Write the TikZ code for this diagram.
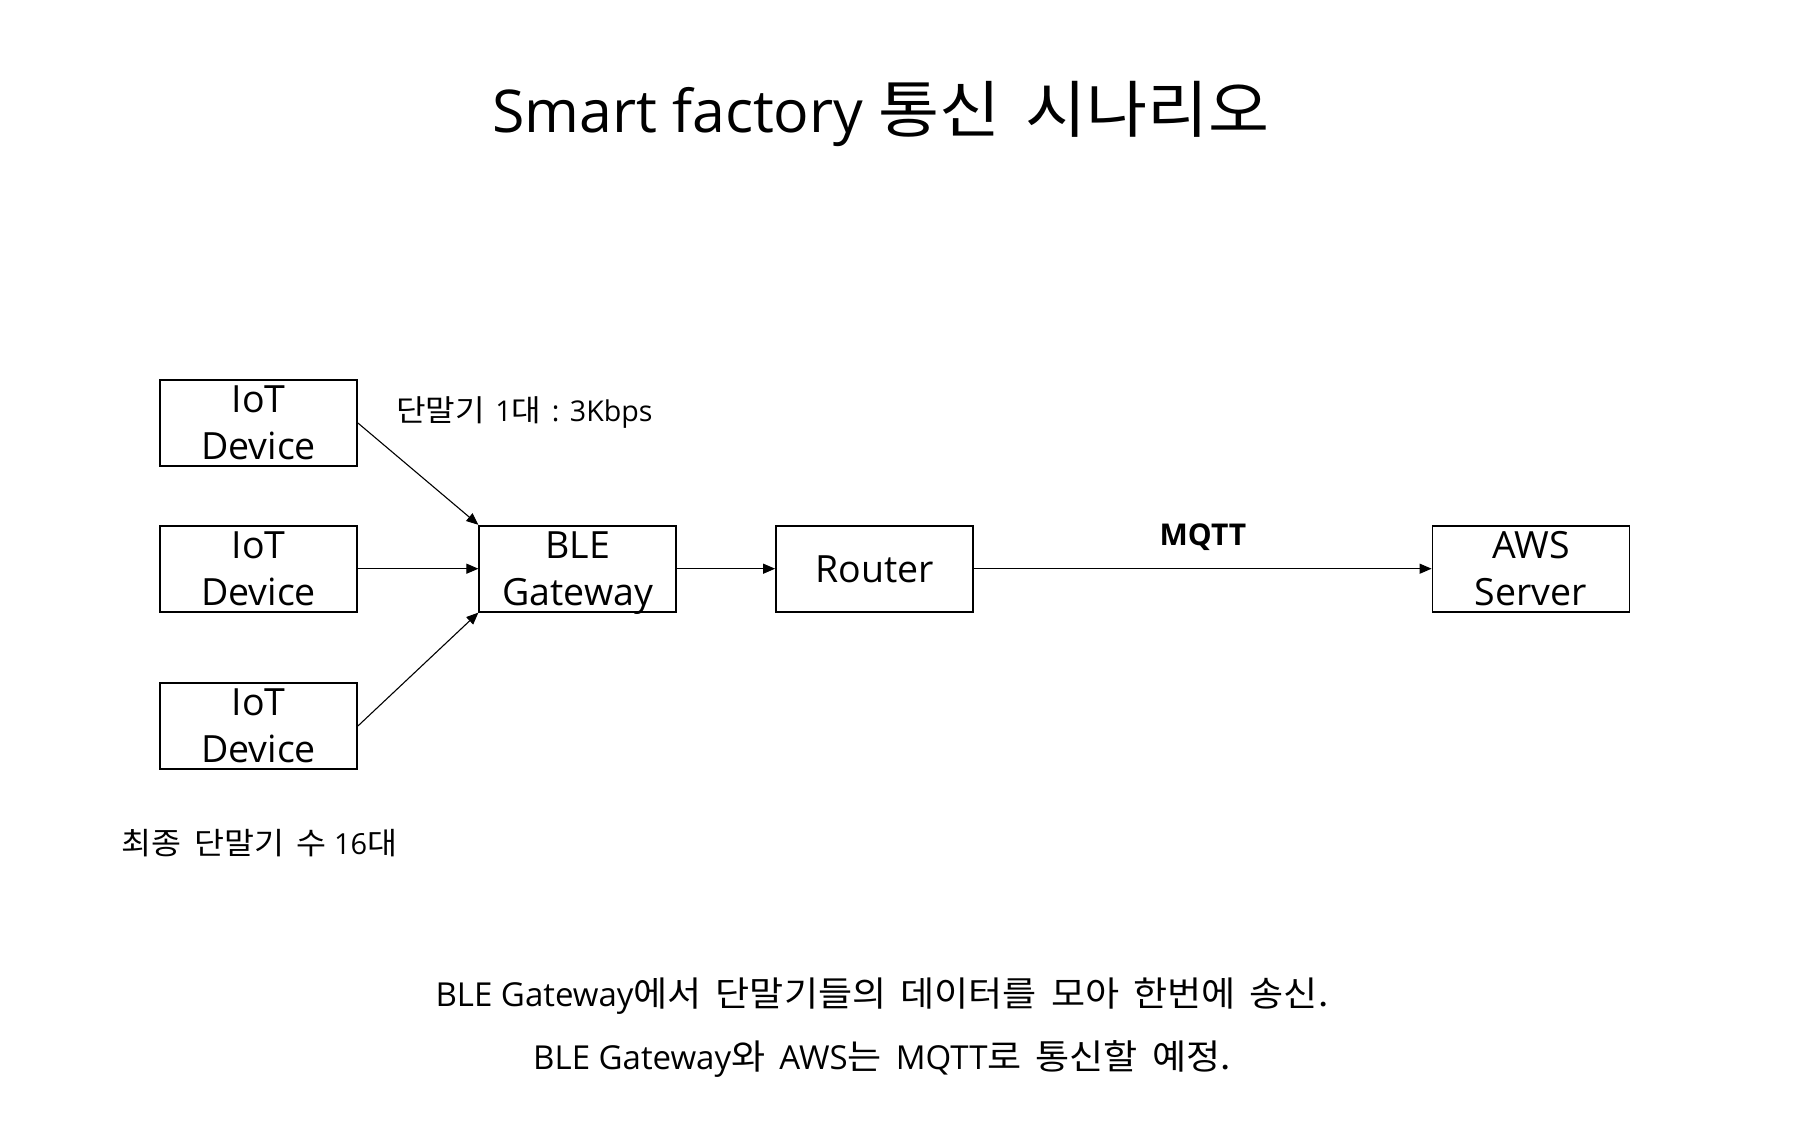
\documentclass[tikz,border=0pt]{standalone}
\usepackage{fontspec}
\setmainfont{Open Sans}
\newfontfamily\kr{Noto Sans CJK KR}[Scale=1.05, FakeStretch=1.07, WordSpace=1.7]
\usetikzlibrary{arrows.meta}
\begin{document}
\begin{tikzpicture}[x=1pt,y=-1pt,
  box/.style={draw, line width=1.8pt, minimum width=197pt, minimum height=86pt,
    inner sep=0pt, align=center, font=\fontsize{37.5}{47}\selectfont, text depth=0pt},
  conn/.style={line width=1.1pt, -{Triangle[length=12pt,width=10pt]}},
  txt/.style={inner sep=0pt}
]
\path[use as bounding box, fill=white] (0,0) rectangle (1801,1129);

\node[txt, anchor=base, font=\fontsize{59}{70}\selectfont] (title) at (881,132) {Smart factory {\kr 통신 시나리오}};

\node[box] (d1) at (258.5,423) {IoT\\Device};
\node[box] (d2) at (258.5,568.7) {IoT\\Device};
\node[box] (d3) at (258.5,726) {IoT\\Device};
\node[box] (gw) at (577.8,568.7) {BLE\\Gateway};
\node[box] (rt) at (874.5,568.7) {Router};
\node[box] (aws) at (1531,568.7) {AWS\\Server};

\draw[conn] (d1.east) -- (gw.north west);
\draw[conn] (d2.east) -- (gw.west);
\draw[conn] (d3.east) -- (gw.south west);
\draw[conn] (gw.east) -- (rt.west);
\draw[conn] (rt.east) -- (aws.west);

\node[txt, anchor=base west, font=\fontsize{28.6}{33}\selectfont] (rate) at (396,421) {{\kr 단말기}\hspace{10.5pt}1{\kr 대}\hspace{10.5pt}:\hspace{10.5pt}3Kbps};
\node[txt, anchor=base, font=\bfseries\fontsize{30}{35}\selectfont] (mqtt) at (1203,545) {MQTT};
\node[txt, anchor=base west, font=\fontsize{29}{34}\selectfont] (total) at (121.7,854) {{\kr 최종 단말기 수} 16{\kr 대}};

\node[txt, anchor=base, font=\fontsize{33}{38}\selectfont] (line1) at (882,1006.7) {BLE Gateway{\kr 에서 단말기들의 데이터를 모아 한번에 송신.}};
\node[txt, anchor=base, font=\fontsize{33}{38}\selectfont] (line2) at (882,1069) {BLE Gateway{\kr 와 }AWS{\kr 는 }MQTT{\kr 로 통신할 예정.}};
\end{tikzpicture}
\end{document}
